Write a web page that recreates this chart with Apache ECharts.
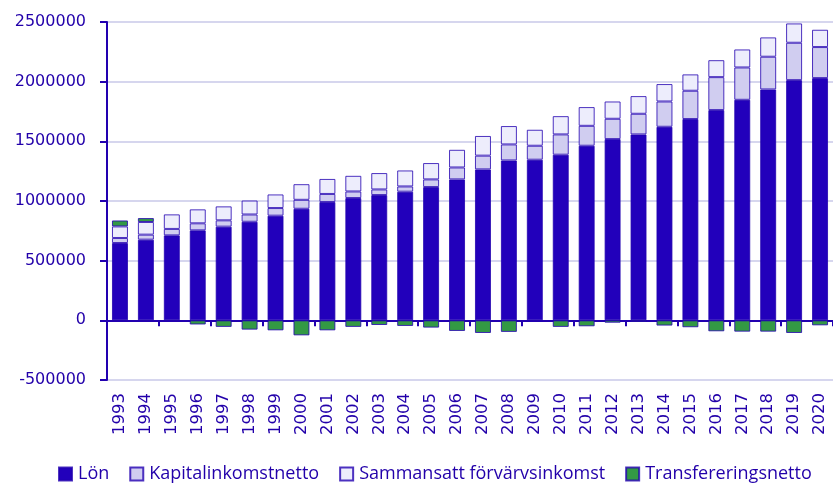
<!DOCTYPE html>
<html>
<head>
<meta charset="utf-8">
<script src="https://cdn.jsdelivr.net/npm/echarts@6/dist/echarts.min.js"></script>
<style>html,body{margin:0;padding:0;background:#fff}#c{width:833px;height:486px}</style>
</head>
<body>
<div id="c"></div>
<script>
const years = ['1993','1994','1995','1996','1997','1998','1999','2000','2001','2002','2003','2004','2005','2006','2007','2008','2009','2010','2011','2012','2013','2014','2015','2016','2017','2018','2019','2020'];
const lon = [648000,676000,712000,754000,785000,826000,877000,935000,992000,1025000,1050000,1078000,1117000,1181000,1265000,1340000,1346000,1388000,1463000,1519000,1558000,1622000,1687000,1762000,1848000,1935000,2013000,2030000];
const kapital = [42000,42000,54000,59000,53000,61000,64000,75000,67000,55000,47000,44000,64000,100000,115000,134000,117000,170000,167000,170000,173000,212000,237000,276000,271000,274000,313000,260000];
const sammansatt = [97000,106000,122000,117000,117000,117000,114000,131000,126000,131000,137000,134000,137000,148000,165000,154000,134000,153000,157000,145000,148000,146000,137000,142000,151000,162000,162000,145000];
const transfer = [50000,33000,-3000,-35000,-55000,-78000,-84000,-126000,-84000,-55000,-39000,-47000,-61000,-89000,-106000,-97000,-5000,-55000,-50000,-20000,-12000,-44000,-58000,-92000,-95000,-95000,-106000,-42000];
const yTicks = {min:-500000, max:2500000, step:500000};
const names = ['Lön','Kapitalinkomstnetto','Sammansatt förvärvsinkomst','Transfereringsnetto'];

const axisColor = '#2200b0';
const textColor = '#2200aa';
const font = "'DejaVu Sans', Verdana, sans-serif";
const border = 'rgba(34,0,176,0.8)';

function s(name, data, color){
  return {name, type:'bar', stack:'total', data, barWidth:16, xAxisIndex:0,
    itemStyle:{color, borderColor:border, borderWidth:1}};
}

const chart = echarts.init(document.getElementById('c'), null, {renderer:'canvas'});
chart.setOption({
  animation:false,
  grid:{left:107, right:-7, top:22, bottom:106, containLabel:false},
  legend:{
    top:460, left:53, itemWidth:13, itemHeight:13, itemGap:20,
    icon:'rect',
    textStyle:{color:textColor, fontFamily:"'Open Sans'", fontSize:18, padding:[0,0,0,1]},
    data:names
  },
  xAxis:[
    {type:'category', data:years, gridIndex:0,
     axisLine:{show:true, onZero:true, lineStyle:{color:axisColor, width:2}},
     axisTick:{show:true, length:6, lineStyle:{color:axisColor, width:2}},
     axisLabel:{show:false}, splitLine:{show:false}},
    {type:'category', data:years, gridIndex:0, position:'bottom',
     axisLine:{show:false, onZero:false}, axisTick:{show:false},
     axisLabel:{show:true, rotate:90, margin:13, color:textColor, fontFamily:font, fontSize:16.5, interval:0}}
  ],
  yAxis:{type:'value', min:yTicks.min, max:yTicks.max, interval:yTicks.step,
    axisLine:{show:true, onZero:false, lineStyle:{color:axisColor, width:2}},
    axisTick:{show:true, length:7, lineStyle:{color:axisColor, width:2}},
    axisLabel:{color:textColor, fontFamily:font, fontSize:16, margin:21, formatter:v => String(v)},
    splitLine:{show:true, lineStyle:{color:'#d6d6ee', width:2}}
  },
  series:[
    s(names[0], lon, '#2200bb'),
    s(names[1], kapital, '#d0cdf0'),
    s(names[2], sammansatt, '#ededfc'),
    s(names[3], transfer, '#339944')
  ]
});
</script>
</body>
</html>
